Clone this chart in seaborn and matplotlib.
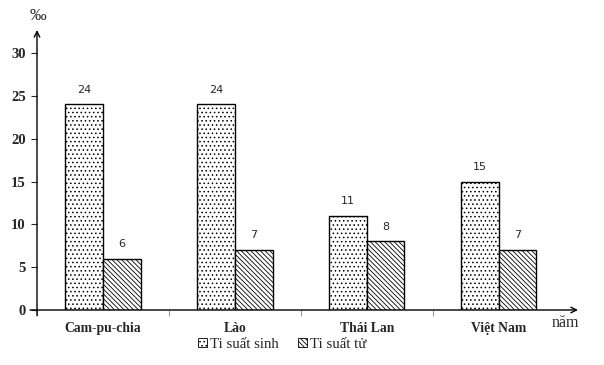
import matplotlib
matplotlib.use('Agg')
import matplotlib.pyplot as plt
import pandas as pd
import seaborn as sns
from matplotlib.patches import Patch

# chart data
countries = ['Cam-pu-chia', 'Lào', 'Thái Lan', 'Việt Nam']
birth_rate = [24, 24, 11, 15]
death_rate = [6, 7, 8, 7]
series_names = ['Ti suất sinh', 'Ti suất tử']
y_ticks = [0, 5, 10, 15, 20, 25, 30]

df = pd.DataFrame({
    'country': countries * 2,
    'rate': birth_rate + death_rate,
    'series': [series_names[0]] * len(countries) + [series_names[1]] * len(countries),
})

sns.set_style('white')
plt.rcParams['hatch.linewidth'] = 0.6
serif = ['Liberation Serif', 'DejaVu Serif']

fig = plt.figure(figsize=(6.04, 3.65), dpi=100)
ax = fig.add_axes([37 / 604, 55 / 365, 541 / 604, 280 / 365])

sns.barplot(data=df, x='country', y='rate', hue='series', order=countries,
            hue_order=series_names, palette=['white', 'white'], width=0.57,
            edgecolor='black', linewidth=1.0, legend=False, ax=ax)

hatches = ['....', '\\\\\\\\\\\\\\']
for cont, h in zip(ax.containers, hatches):
    for bar in cont:
        bar.set_hatch(h)
        bar.set_edgecolor('black')
    ax.bar_label(cont, padding=7, fontsize=8, family='DejaVu Sans')

ax.set_xlim(-0.5, 3.6)
ax.set_ylim(0, 32.7)
ax.set_xlabel('')
ax.set_ylabel('')
for s in ['top', 'right', 'left', 'bottom']:
    ax.spines[s].set_visible(False)

ax.set_yticks(y_ticks)
ax.set_yticklabels([str(v) for v in y_ticks], fontsize=10.5, fontweight='bold', family=serif)
ax.tick_params(axis='y', left=True, length=4, width=0.8, pad=4)
ax.set_xticks(range(len(countries)))
ax.set_xticklabels(countries, fontsize=9.8, fontweight='bold', family=serif)
ax.set_xticks([-0.5, 0.5, 1.5, 2.5], minor=True)
ax.tick_params(axis='x', which='major', bottom=False, pad=5)
ax.tick_params(axis='x', which='minor', bottom=True, length=4, width=0.6, color='gray')

# axis lines with arrow heads
ax.annotate('', xy=(0, 1.0), xytext=(0, -0.02), xycoords='axes fraction',
            arrowprops=dict(arrowstyle='->', lw=1.0, color='black', shrinkA=0, shrinkB=0))
ax.annotate('', xy=(1.0, 0), xytext=(-0.013, 0), xycoords='axes fraction',
            arrowprops=dict(arrowstyle='->', lw=1.0, color='black', shrinkA=0, shrinkB=0))

fig.text(30 / 604, 1 - 16 / 365, '‰', fontsize=12, family=serif, va='center')
fig.text(552 / 604, 1 - 323 / 365, 'năm', fontsize=11.5, family=serif, va='center')

handles = [Patch(facecolor='white', edgecolor='black', hatch=h, linewidth=0.6) for h in hatches]
fig.legend(handles, series_names, loc='center left', bbox_to_anchor=(198 / 604, 1 - 344 / 365),
           ncol=2, frameon=False, prop={'family': serif, 'size': 10.7},
           handlelength=0.6, handleheight=0.6, handletextpad=0.2, columnspacing=1.3,
           borderpad=0, borderaxespad=0)

fig.savefig('out.png', dpi=100)
